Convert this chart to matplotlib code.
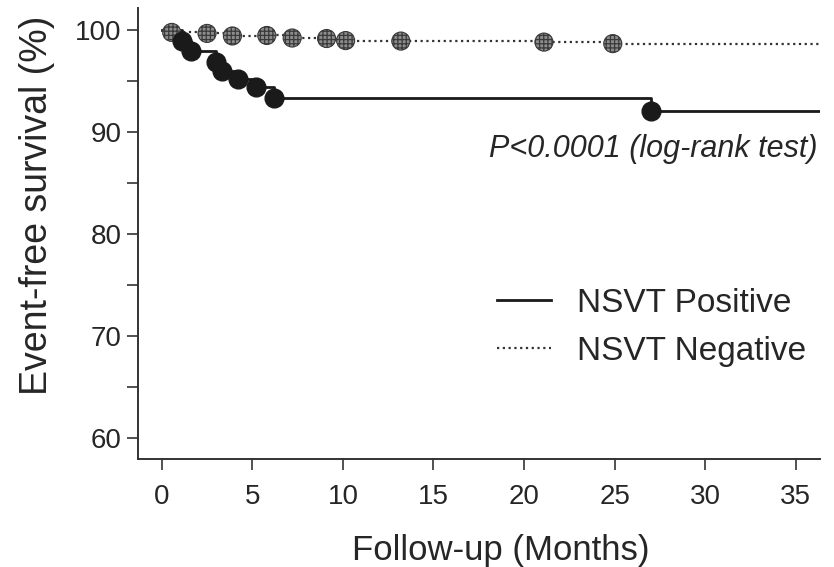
import numpy as np
import matplotlib
matplotlib.use("Agg")
import matplotlib.pyplot as plt
from matplotlib.lines import Line2D

# Kaplan-Meier step curves (months, % event-free)
pos_times = [0, 1.1, 1.6, 3.0, 3.3, 4.2, 5.2, 6.2, 27.0, 36.3]
pos_surv = [100, 99.0, 98.0, 96.9, 96.05, 95.2, 94.4, 93.35, 92.1, 92.1]
pos_event_t = [1.1, 1.6, 3.0, 3.3, 4.2, 5.2, 6.2, 27.0]
pos_event_s = [99.0, 98.0, 96.9, 96.05, 95.2, 94.4, 93.35, 92.1]

neg_times = [0, 0.55, 2.5, 3.9, 5.8, 7.2, 9.1, 10.15, 13.2, 21.1, 24.9, 36.3]
neg_surv = [100, 99.8, 99.7, 99.45, 99.5, 99.25, 99.2, 99.0, 98.95, 98.85, 98.7, 98.7]
neg_event_t = [0.55, 2.5, 3.9, 5.8, 7.2, 9.1, 10.15, 13.2, 21.1, 24.9]
neg_event_s = [99.8, 99.7, 99.45, 99.5, 99.25, 99.2, 99.0, 98.95, 98.85, 98.7]

xticks = [0, 5, 10, 15, 20, 25, 30, 35]
yticks = [60, 70, 80, 90, 100]

plt.rcParams['font.family'] = ['Liberation Sans', 'DejaVu Sans']
plt.rcParams['hatch.linewidth'] = 0.9
txt = '#262626'

fig = plt.figure(figsize=(8.34, 5.67), dpi=100)
ax = fig.add_axes([0.1655, 0.19, 0.8175, 0.796])

ax.plot(pos_times, pos_surv, drawstyle='steps-post', color='#1a1a1a', lw=2.0, zorder=2)
ax.plot(neg_times, neg_surv, drawstyle='steps-post', color='#333333', lw=1.6,
        linestyle=(0, (1, 1.6)), zorder=2)

ax.scatter(neg_event_t, neg_event_s, s=13**2, facecolor='#8c8c8c', edgecolor='#3a3a3a',
           hatch='++++', linewidths=0.8, zorder=3)
ax.scatter(pos_event_t, pos_event_s, s=13.5**2, color='#1a1a1a', zorder=4)

ax.set_xlim(-1.31, 36.33)
ax.set_ylim(57.93, 102.2)
ax.set_xticks(xticks)
ax.set_yticks(yticks)
ax.set_yticks([65, 75, 85, 95], minor=True)

for s in ['top', 'right']:
    ax.spines[s].set_visible(False)
for s in ['left', 'bottom']:
    ax.spines[s].set_linewidth(1.4)
    ax.spines[s].set_color('#333333')

ax.tick_params(axis='both', which='both', direction='out', length=8, width=1.2,
               color='#333333', labelsize=20, labelcolor=txt)
ax.tick_params(axis='x', pad=10)
ax.tick_params(axis='y', pad=4)

ax.set_xlabel('Follow-up (Months)', fontsize=25, color=txt)
ax.set_ylabel('Event-free survival (%)', fontsize=27, color=txt)
ax.xaxis.set_label_coords(0.532, -0.165)
ax.yaxis.set_label_coords(-0.122, 0.563)

ax.text(36.2, 88.4, 'P<0.0001 (log-rank test)', fontsize=22, style='italic',
        ha='right', va='center', color=txt)

handles = [Line2D([], [], color='#1a1a1a', lw=2.0),
           Line2D([], [], color='#333333', lw=1.6, linestyle=(0, (1, 1.6)))]
ax.legend(handles, ['NSVT Positive', 'NSVT Negative'], loc='upper left',
          bbox_to_anchor=(0.483, 0.446), frameon=False, fontsize=24,
          handlelength=1.6, handletextpad=0.8, labelspacing=0.5,
          labelcolor=txt)

fig.savefig('out.png', dpi=100)
